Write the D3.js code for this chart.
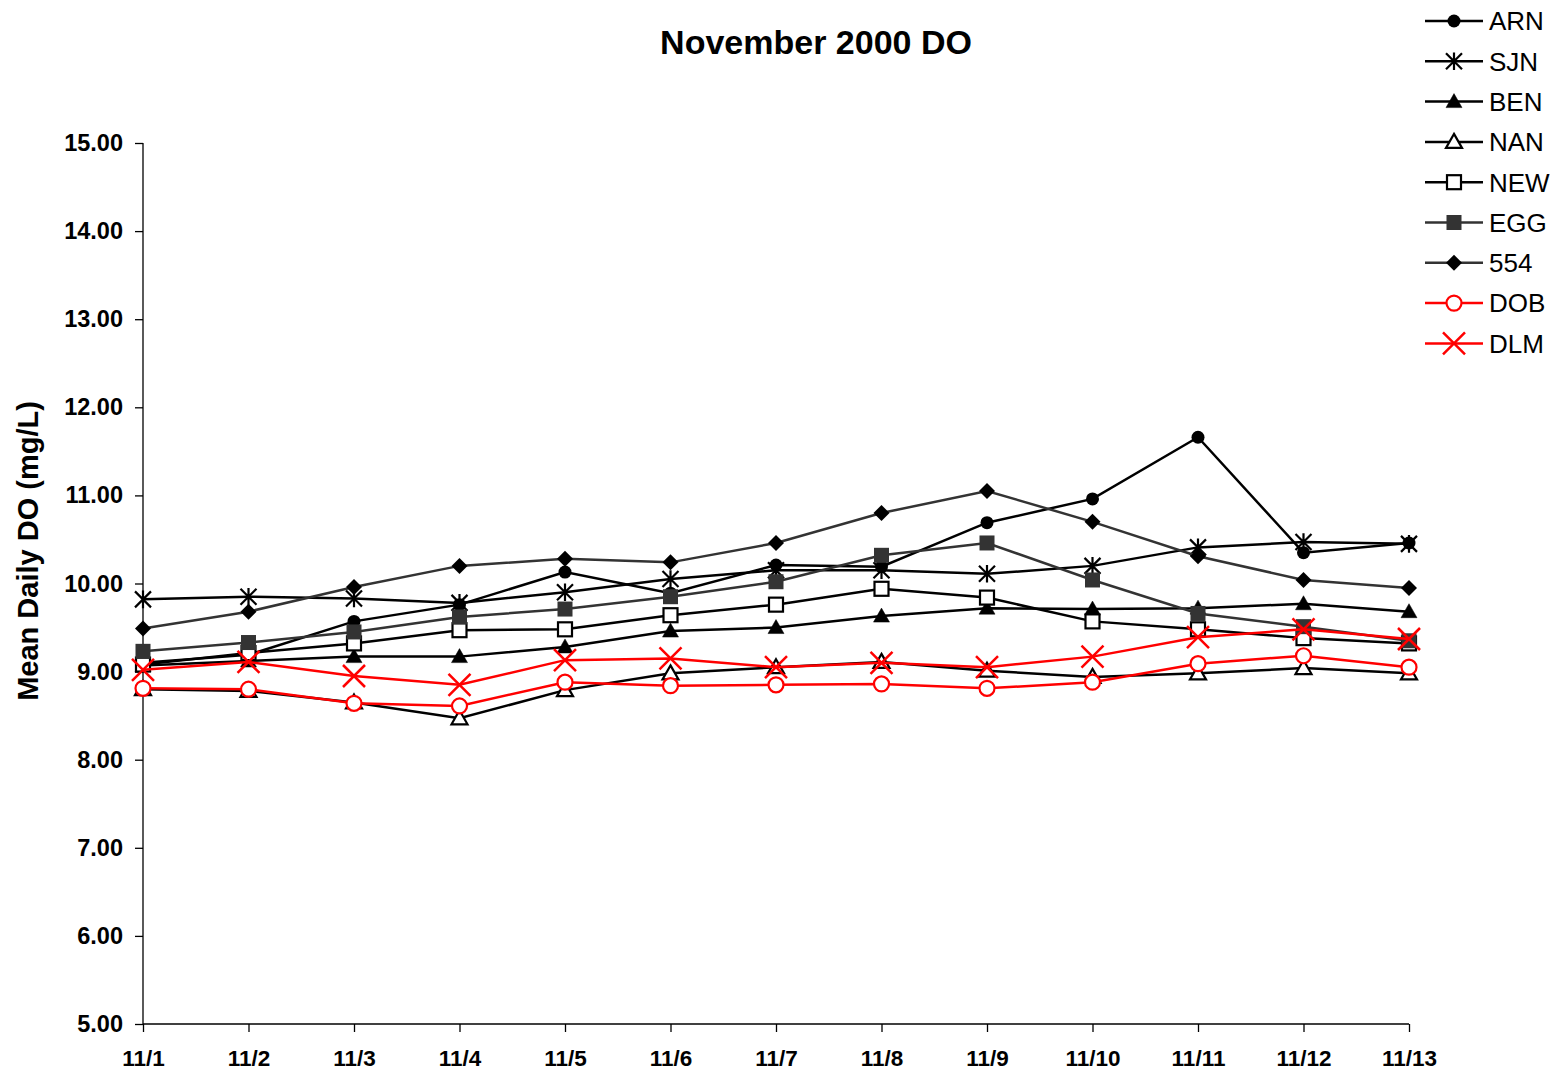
<!DOCTYPE html>
<html>
<head>
<meta charset="utf-8">
<script src="https://cdn.jsdelivr.net/npm/d3@7"></script>
<style>
  html, body { margin: 0; padding: 0; background: #fff; }
  svg { display: block; }
  text { font-family: "Liberation Sans", Arial, Helvetica, sans-serif; }
</style>
</head>
<body>
<svg id="chart" width="1556" height="1074"></svg>
<script>
// ---- Data ----
const dates = ["11/1","11/2","11/3","11/4","11/5","11/6","11/7","11/8","11/9","11/10","11/11","11/12","11/13"];
const yTicks = [5, 6, 7, 8, 9, 10, 11, 12, 13, 14, 15];

const ARN = [9.10, 9.19, 9.57, 9.76, 10.13, 9.89, 10.21, 10.19, 10.69, 10.96, 11.66, 10.35, 10.46];
const SJN = [9.82, 9.85, 9.83, 9.78, 9.90, 10.05, 10.15, 10.15, 10.11, 10.20, 10.41, 10.47, 10.45];
const BEN = [9.07, 9.12, 9.17, 9.17, 9.28, 9.46, 9.50, 9.63, 9.72, 9.71, 9.72, 9.77, 9.68];
const NAN = [8.80, 8.78, 8.65, 8.47, 8.79, 8.98, 9.05, 9.11, 9.01, 8.94, 8.98, 9.04, 8.98];
const NEW = [9.08, 9.21, 9.32, 9.47, 9.48, 9.64, 9.76, 9.94, 9.84, 9.57, 9.48, 9.38, 9.32];
const EGG = [9.23, 9.33, 9.45, 9.62, 9.71, 9.85, 10.02, 10.32, 10.46, 10.04, 9.66, 9.51, 9.35];
const S554 = [9.49, 9.68, 9.96, 10.20, 10.28, 10.24, 10.46, 10.80, 11.05, 10.70, 10.31, 10.04, 9.95];
const DOB = [8.81, 8.80, 8.64, 8.61, 8.88, 8.84, 8.85, 8.86, 8.81, 8.88, 9.09, 9.18, 9.05];
const DLM = [9.02, 9.11, 8.95, 8.85, 9.13, 9.15, 9.05, 9.10, 9.05, 9.17, 9.39, 9.48, 9.37];

const seriesNames = ["ARN","SJN","BEN","NAN","NEW","EGG","554","DOB","DLM"];
const seriesValues = [ARN, SJN, BEN, NAN, NEW, EGG, S554, DOB, DLM];

// ---- Styles ----
const styles = {
  "ARN": {line: "#000", marker: "circle", fill: "#000", stroke: "#000"},
  "SJN": {line: "#000", marker: "star", fill: "none", stroke: "#000"},
  "BEN": {line: "#000", marker: "triangle", fill: "#000", stroke: "#000"},
  "NAN": {line: "#000", marker: "triangle", fill: "#fff", stroke: "#000"},
  "NEW": {line: "#000", marker: "square", fill: "#fff", stroke: "#000"},
  "EGG": {line: "#333", marker: "square", fill: "#333", stroke: "#333"},
  "554": {line: "#333", marker: "diamond", fill: "#000", stroke: "#000"},
  "DOB": {line: "#f00", marker: "circle", fill: "#fff", stroke: "#f00"},
  "DLM": {line: "#f00", marker: "x", fill: "none", stroke: "#f00"}
};

const svg = d3.select("#chart");
const plotL = 143, plotR = 1409, plotT = 143, plotB = 1024;

const x = d3.scalePoint().domain(dates).range([plotL, plotR]);
const y = d3.scaleLinear().domain([5, 15]).range([plotB, plotT]);

// Title
svg.append("text")
  .attr("x", 816).attr("y", 54)
  .attr("text-anchor", "middle")
  .attr("font-size", 34).attr("font-weight", "bold")
  .text("November 2000 DO");

// Y axis
const yAxis = d3.axisLeft(y).tickValues(yTicks).tickFormat(d3.format(".2f")).tickSize(8).tickPadding(12);
const gy = svg.append("g").attr("transform", `translate(${plotL},0)`).call(yAxis);
gy.select(".domain").attr("stroke", "#000").attr("stroke-width", 1.3).attr("d", `M0,${plotT}V${plotB}`);
gy.selectAll(".tick line").attr("stroke", "#000").attr("stroke-width", 1.3);
gy.selectAll(".tick text").attr("font-size", 23.5).attr("font-weight", "bold")
  .attr("font-family", '"Liberation Sans", Arial, sans-serif').attr("fill", "#000");

// X axis
const xAxis = d3.axisBottom(x).tickSize(8).tickPadding(18);
const gx = svg.append("g").attr("transform", `translate(0,${plotB})`).call(xAxis);
gx.select(".domain").attr("stroke", "#000").attr("stroke-width", 1.3).attr("d", `M${plotL},0H${plotR}`);
gx.selectAll(".tick line").attr("stroke", "#000").attr("stroke-width", 1.3);
gx.selectAll(".tick text").attr("font-size", 22.5).attr("font-weight", "bold")
  .attr("font-family", '"Liberation Sans", Arial, sans-serif').attr("fill", "#000");

// Y axis title
svg.append("text")
  .attr("transform", "translate(38,551) rotate(-90)")
  .attr("text-anchor", "middle")
  .attr("font-size", 29).attr("font-weight", "bold")
  .text("Mean Daily DO (mg/L)");

// Marker drawing
function drawMarker(g, type, st, cx, cy) {
  const sw = 2.2;
  if (type === "circle") {
    if (st.fill === "#000") {
      g.append("circle").attr("cx", cx).attr("cy", cy).attr("r", 6.5).attr("fill", st.fill).attr("stroke", "none");
    } else {
      g.append("circle").attr("cx", cx).attr("cy", cy).attr("r", 7.5).attr("fill", st.fill).attr("stroke", st.stroke).attr("stroke-width", sw);
    }
  } else if (type === "square") {
    if (st.fill === "#fff") {
      g.append("rect").attr("x", cx - 7).attr("y", cy - 7).attr("width", 14).attr("height", 14)
        .attr("fill", st.fill).attr("stroke", st.stroke).attr("stroke-width", sw);
    } else {
      g.append("rect").attr("x", cx - 7.5).attr("y", cy - 7.5).attr("width", 15).attr("height", 15)
        .attr("fill", st.fill).attr("stroke", "none");
    }
  } else if (type === "triangle") {
    const s = 8;
    const pts = [[cx, cy - s], [cx + s, cy + s * 0.75], [cx - s, cy + s * 0.75]];
    g.append("path").attr("d", d3.line()(pts) + "Z")
      .attr("fill", st.fill).attr("stroke", st.stroke).attr("stroke-width", st.fill === "#fff" ? sw : 0.5);
  } else if (type === "diamond") {
    const s = 8;
    g.append("path").attr("d", `M${cx},${cy - s}L${cx + s},${cy}L${cx},${cy + s}L${cx - s},${cy}Z`)
      .attr("fill", st.fill).attr("stroke", "none");
  } else if (type === "star") {
    const s = 8;
    g.append("path").attr("d",
      `M${cx - s},${cy - s}L${cx + s},${cy + s}M${cx - s},${cy + s}L${cx + s},${cy - s}M${cx},${cy - s * 1.1}L${cx},${cy + s * 1.1}`)
      .attr("stroke", st.stroke).attr("stroke-width", sw).attr("fill", "none");
  } else if (type === "x") {
    const s = 11;
    g.append("path").attr("d",
      `M${cx - s},${cy - s}L${cx + s},${cy + s}M${cx - s},${cy + s}L${cx + s},${cy - s}`)
      .attr("stroke", st.stroke).attr("stroke-width", 2.5).attr("fill", "none");
  }
}

// Series
const line = d3.line().x((d, i) => x(dates[i])).y(d => y(d));
seriesNames.forEach((name, k) => {
  const st = styles[name];
  const vals = seriesValues[k];
  const g = svg.append("g").attr("class", "series");
  g.append("path").datum(vals).attr("d", line)
    .attr("fill", "none").attr("stroke", st.line).attr("stroke-width", 2.5);
  vals.forEach((v, i) => drawMarker(g, st.marker, st, x(dates[i]), y(v)));
});

// Legend
const leg = svg.append("g");
seriesNames.forEach((name, k) => {
  const st = styles[name];
  const ly = 21 + k * 40.3;
  const g = leg.append("g");
  g.append("line").attr("x1", 1425).attr("x2", 1483).attr("y1", ly).attr("y2", ly)
    .attr("stroke", st.line).attr("stroke-width", 2.5);
  drawMarker(g, st.marker, st, 1454, ly);
  g.append("text").attr("x", 1489).attr("y", ly + 9.3)
    .attr("font-size", 26).attr("fill", "#000").text(name);
});
</script>
</body>
</html>
